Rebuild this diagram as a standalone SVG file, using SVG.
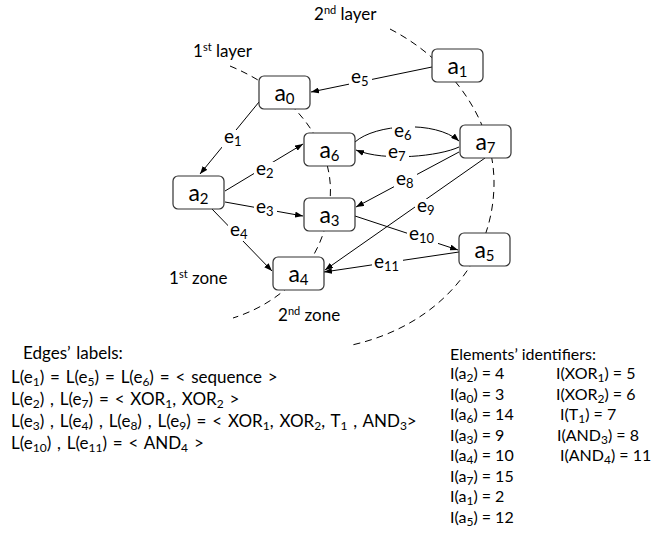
<svg xmlns="http://www.w3.org/2000/svg" width="661" height="555" viewBox="0 0 661 555">
<defs>
<marker id="arr" markerWidth="8" markerHeight="6" refX="8" refY="3" orient="auto" markerUnits="userSpaceOnUse">
<path d="M0,0 L8,3 L0,6 z" fill="#000"/>
</marker>
<style>
text{font-family:Lato,"Liberation Sans",sans-serif;fill:#000}
.box{fill:#fff;stroke:#333;stroke-width:1.2}
.nl{font-size:23px;text-anchor:middle}
.ns{font-size:15px;baseline-shift:-3px}
.edge{fill:none;stroke:#000;stroke-width:1}
.layer{fill:none;stroke:#000;stroke-width:1;stroke-dasharray:7,5}
.el{font-size:19px}
.es{font-size:13px;baseline-shift:-3px}
.bg{fill:#fff}
.lab{font-size:17px}
.sup{font-size:11px;baseline-shift:6px}
.t{font-size:17px;word-spacing:1.5px}
.s{font-size:12px;baseline-shift:-2.5px}
.r{font-size:16px}
</style>
</defs>
<g id="layers">
<path class="layer" d="M230,66 C300,95 335,150 330,200 C326,255 290,300 233,318"/>
<path class="layer" d="M390,29 C450,60 495,120 494,185 C493,260 440,325 352,345"/>
</g>
<g id="connectors">
<path class="edge" d="M432,67 L311,92" marker-end="url(#arr)"/>
<path class="edge" d="M259,102 L200,174" marker-end="url(#arr)"/>
<path class="edge" d="M225,191 L303,144" marker-end="url(#arr)"/>
<path class="edge" d="M225,202 L303,216" marker-end="url(#arr)"/>
<path class="edge" d="M212,209 L272,271" marker-end="url(#arr)"/>
<path class="edge" d="M355,142 C375,124 435,120 459,141" marker-end="url(#arr)"/>
<path class="edge" d="M459,147 C440,156 385,162 356,150" marker-end="url(#arr)"/>
<path class="edge" d="M459,152 L356,207" marker-end="url(#arr)"/>
<path class="edge" d="M485,158 L325,270" marker-end="url(#arr)"/>
<path class="edge" d="M355,216 L458,250" marker-end="url(#arr)"/>
<path class="edge" d="M459,252 L324,272" marker-end="url(#arr)"/>
<rect class="bg" x="349" y="70" width="23" height="18"/>
<text class="el" x="351" y="83">e<tspan class="es">5</tspan></text>
<rect class="bg" x="222" y="130" width="23" height="18"/>
<text class="el" x="224" y="143">e<tspan class="es">1</tspan></text>
<rect class="bg" x="254" y="162" width="23" height="18"/>
<text class="el" x="256" y="175">e<tspan class="es">2</tspan></text>
<rect class="bg" x="254" y="200" width="23" height="18"/>
<text class="el" x="256" y="213">e<tspan class="es">3</tspan></text>
<rect class="bg" x="228" y="223" width="23" height="18"/>
<text class="el" x="230" y="236">e<tspan class="es">4</tspan></text>
<rect class="bg" x="392" y="124" width="23" height="17"/>
<text class="el" x="394" y="137">e<tspan class="es">6</tspan></text>
<rect class="bg" x="386" y="145" width="23" height="18"/>
<text class="el" x="388" y="158">e<tspan class="es">7</tspan></text>
<rect class="bg" x="394" y="172" width="23" height="18"/>
<text class="el" x="396" y="185">e<tspan class="es">8</tspan></text>
<rect class="bg" x="415" y="199" width="23" height="18"/>
<text class="el" x="417" y="212">e<tspan class="es">9</tspan></text>
<rect class="bg" x="407" y="227" width="31" height="18"/>
<text class="el" x="409" y="240">e<tspan class="es">10</tspan></text>
<rect class="bg" x="372" y="255" width="31" height="18"/>
<text class="el" x="374" y="268">e<tspan class="es">11</tspan></text>
</g>
<g id="a1"><rect class="box" x="432" y="49" width="51" height="33" rx="5"/><text class="nl" x="457.5" y="73.5">a<tspan class="ns">1</tspan></text></g>
<g id="a0"><rect class="box" x="259" y="76" width="51" height="33" rx="5"/><text class="nl" x="284.5" y="100.5">a<tspan class="ns">0</tspan></text></g>
<g id="a6"><rect class="box" x="304" y="133" width="51" height="33" rx="5"/><text class="nl" x="329.5" y="157.5">a<tspan class="ns">6</tspan></text></g>
<g id="a7"><rect class="box" x="460" y="125" width="51" height="33" rx="5"/><text class="nl" x="485.5" y="149.5">a<tspan class="ns">7</tspan></text></g>
<g id="a2"><rect class="box" x="173" y="176" width="51" height="33" rx="5"/><text class="nl" x="198.5" y="200.5">a<tspan class="ns">2</tspan></text></g>
<g id="a3"><rect class="box" x="304" y="198" width="51" height="33" rx="5"/><text class="nl" x="329.5" y="222.5">a<tspan class="ns">3</tspan></text></g>
<g id="a4"><rect class="box" x="273" y="257" width="51" height="33" rx="5"/><text class="nl" x="298.5" y="281.5">a<tspan class="ns">4</tspan></text></g>
<g id="a5"><rect class="box" x="459" y="233" width="51" height="33" rx="5"/><text class="nl" x="484.5" y="257.5">a<tspan class="ns">5</tspan></text></g>
<g id="labels">
<text class="lab" x="193" y="57">1<tspan class="sup">st</tspan> layer</text>
<text class="lab" x="314" y="20">2<tspan class="sup">nd</tspan> layer</text>
<text class="lab" x="169" y="284">1<tspan class="sup">st</tspan> zone</text>
<text class="lab" x="278" y="321">2<tspan class="sup">nd</tspan> zone</text>
</g>
<g id="edge-labels-legend">
<text class="t" x="23" y="359">Edges’ labels:</text>
<text class="t" x="11" y="383">L(e<tspan class="s">1</tspan>) = L(e<tspan class="s">5</tspan>) = L(e<tspan class="s">6</tspan>) = &lt; sequence &gt;</text>
<text class="t" x="11" y="405">L(e<tspan class="s">2</tspan>) , L(e<tspan class="s">7</tspan>) = &lt; XOR<tspan class="s">1</tspan>, XOR<tspan class="s">2</tspan> &gt;</text>
<text class="t" x="11" y="427">L(e<tspan class="s">3</tspan>) , L(e<tspan class="s">4</tspan>) , L(e<tspan class="s">8</tspan>) , L(e<tspan class="s">9</tspan>) = &lt; XOR<tspan class="s">1</tspan>, XOR<tspan class="s">2</tspan>, T<tspan class="s">1</tspan> , AND<tspan class="s">3</tspan>&gt;</text>
<text class="t" x="11" y="449">L(e<tspan class="s">10</tspan>) , L(e<tspan class="s">11</tspan>) = &lt; AND<tspan class="s">4</tspan> &gt;</text>
</g>
<g id="identifiers-legend">
<text class="r" x="450" y="360">Elements’ identifiers:</text>
<text class="r" x="450" y="379">I(a<tspan class="s">2</tspan>) = 4</text>
<text class="r" x="450" y="400">I(a<tspan class="s">0</tspan>) = 3</text>
<text class="r" x="450" y="420">I(a<tspan class="s">6</tspan>) = 14</text>
<text class="r" x="450" y="441">I(a<tspan class="s">3</tspan>) = 9</text>
<text class="r" x="450" y="461">I(a<tspan class="s">4</tspan>) = 10</text>
<text class="r" x="450" y="482">I(a<tspan class="s">7</tspan>) = 15</text>
<text class="r" x="450" y="502">I(a<tspan class="s">1</tspan>) = 2</text>
<text class="r" x="450" y="523">I(a<tspan class="s">5</tspan>) = 12</text>
<text class="r" x="556" y="379">I(XOR<tspan class="s">1</tspan>) = 5</text>
<text class="r" x="556" y="400">I(XOR<tspan class="s">2</tspan>) = 6</text>
<text class="r" x="560" y="420">I(T<tspan class="s">1</tspan>) = 7</text>
<text class="r" x="557" y="441">I(AND<tspan class="s">3</tspan>) = 8</text>
<text class="r" x="560" y="461">I(AND<tspan class="s">4</tspan>) = 11</text>
</g>
</svg>
